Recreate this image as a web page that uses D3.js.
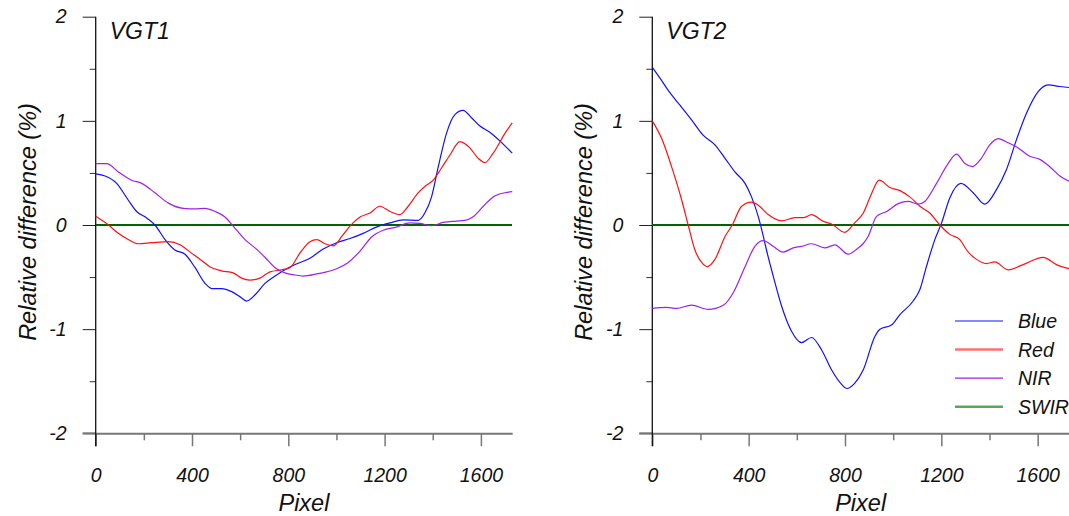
<!DOCTYPE html>
<html>
<head>
<meta charset="utf-8">
<script src="https://d3js.org/d3.v7.min.js"></script>
<style>
  body { margin: 0; background: #fff; }
  svg text { font-family: "Liberation Sans", Arial, sans-serif; font-style: italic; fill: #111; }
</style>
</head>
<body>
<svg width="1069" height="516"></svg>
<script>
// ---- data (pixel index -> relative difference %) ----
var xTickValues = [0, 400, 800, 1200, 1600];
var xMinorTicks = [200, 600, 1000, 1400];
var yTickValues = [-2, -1, 0, 1, 2];
var yMinorTicks = [-1.5, -0.5, 0.5, 1.5];

var bandNames = ["Blue", "Red", "NIR", "SWIR"];
var bandColors = ["#1010ff", "#ff1010", "#a020e8", "#006400"];

var swirPixels = [0, 1730];
var swirValues = [0, 0];

var vgt1BluePixels = [0, 39, 87, 135, 170, 212, 246, 288, 329, 371, 413, 454, 482, 523, 565, 606, 627, 662, 703, 745, 786, 828, 890, 945, 1001, 1056, 1111, 1166, 1222, 1277, 1340, 1367, 1395, 1423, 1457, 1492, 1526, 1561, 1596, 1637, 1700, 1730];
var vgt1BlueValues = [0.49, 0.47, 0.40, 0.24, 0.13, 0.067, 0.0, -0.14, -0.24, -0.28, -0.41, -0.56, -0.61, -0.61, -0.64, -0.70, -0.73, -0.67, -0.56, -0.49, -0.43, -0.38, -0.32, -0.23, -0.17, -0.13, -0.08, -0.02, 0.02, 0.05, 0.045, 0.115, 0.27, 0.56, 0.88, 1.06, 1.10, 1.03, 0.95, 0.89, 0.76, 0.69];

var vgt1RedPixels = [0, 53, 94, 135, 177, 232, 302, 350, 398, 440, 474, 523, 571, 606, 640, 682, 724, 772, 807, 848, 890, 918, 952, 987, 1022, 1056, 1098, 1139, 1180, 1222, 1263, 1298, 1340, 1367, 1402, 1437, 1471, 1513, 1554, 1589, 1617, 1651, 1700, 1730];
var vgt1RedValues = [0.083, 0.0, -0.08, -0.14, -0.18, -0.17, -0.16, -0.19, -0.27, -0.34, -0.40, -0.44, -0.46, -0.51, -0.53, -0.51, -0.45, -0.43, -0.41, -0.27, -0.16, -0.14, -0.18, -0.20, -0.11, -0.01, 0.077, 0.115, 0.18, 0.13, 0.10, 0.18, 0.31, 0.37, 0.43, 0.55, 0.67, 0.80, 0.74, 0.64, 0.60, 0.69, 0.88, 0.98];

var vgt1NirPixels = [0, 46, 94, 149, 191, 246, 302, 364, 413, 454, 496, 537, 571, 620, 662, 703, 745, 786, 828, 862, 918, 959, 1001, 1049, 1098, 1146, 1194, 1249, 1305, 1346, 1395, 1443, 1499, 1533, 1568, 1610, 1651, 1700, 1730];
var vgt1NirValues = [0.59, 0.59, 0.51, 0.43, 0.40, 0.31, 0.21, 0.16, 0.155, 0.16, 0.13, 0.077, -0.01, -0.14, -0.22, -0.31, -0.41, -0.46, -0.48, -0.49, -0.47, -0.45, -0.42, -0.36, -0.25, -0.115, -0.05, -0.02, 0.02, 0.015, -0.007, 0.025, 0.038, 0.045, 0.08, 0.18, 0.27, 0.31, 0.32];

var vgt2BluePixels = [0, 32, 73, 115, 163, 212, 260, 302, 343, 385, 412, 440, 461, 474, 502, 537, 578, 620, 661, 703, 744, 786, 807, 840, 876, 924, 945, 993, 1028, 1083, 1111, 1138, 1173, 1201, 1235, 1281, 1332, 1380, 1429, 1470, 1512, 1553, 1602, 1643, 1692, 1730];
var vgt2BlueValues = [1.515, 1.41, 1.27, 1.15, 1.01, 0.86, 0.77, 0.64, 0.51, 0.40, 0.27, 0.08, -0.11, -0.24, -0.49, -0.78, -1.02, -1.13, -1.08, -1.20, -1.39, -1.53, -1.57, -1.52, -1.39, -1.07, -1.00, -0.96, -0.86, -0.73, -0.62, -0.40, -0.14, 0.02, 0.26, 0.40, 0.31, 0.20, 0.34, 0.53, 0.82, 1.07, 1.28, 1.345, 1.33, 1.32];

var vgt2RedPixels = [0, 39, 80, 122, 149, 177, 205, 228, 260, 302, 332, 371, 412, 440, 481, 537, 592, 627, 661, 710, 744, 799, 840, 876, 910, 942, 986, 1028, 1069, 1111, 1152, 1194, 1235, 1277, 1305, 1346, 1387, 1422, 1477, 1540, 1623, 1678, 1730];
var vgt2RedValues = [1.00, 0.83, 0.56, 0.24, 0.0, -0.24, -0.36, -0.40, -0.33, -0.11, 0.0, 0.18, 0.22, 0.19, 0.10, 0.04, 0.07, 0.07, 0.10, 0.035, 0.01, -0.07, 0.02, 0.115, 0.30, 0.43, 0.36, 0.33, 0.27, 0.18, 0.115, 0.0, -0.09, -0.14, -0.24, -0.33, -0.37, -0.355, -0.43, -0.38, -0.31, -0.38, -0.42];

var vgt2NirPixels = [0, 59, 101, 163, 232, 295, 336, 385, 426, 461, 502, 543, 585, 620, 661, 716, 758, 813, 850, 875, 896, 931, 973, 1021, 1062, 1104, 1131, 1180, 1228, 1263, 1298, 1329, 1366, 1401, 1436, 1477, 1519, 1567, 1609, 1650, 1692, 1730];
var vgt2NirValues = [-0.80, -0.79, -0.80, -0.77, -0.81, -0.77, -0.65, -0.40, -0.205, -0.15, -0.205, -0.26, -0.22, -0.205, -0.18, -0.22, -0.19, -0.28, -0.23, -0.18, -0.11, 0.083, 0.13, 0.205, 0.226, 0.20, 0.226, 0.40, 0.59, 0.68, 0.59, 0.56, 0.64, 0.77, 0.83, 0.79, 0.74, 0.66, 0.63, 0.56, 0.47, 0.42];

function pairs(xs, ys) { return xs.map(function(x, i) { return [x, ys[i]]; }); }

var svg = d3.select("svg");

function drawPanel(opt) {
  var x = d3.scaleLinear().domain([0, 1730]).range([opt.left, opt.right]);
  var y = d3.scaleLinear().domain([-2, 2]).range([433.3, 16.7]);
  var g = svg.append("g");

  // y axis
  var yMajor = g.append("g").attr("transform", "translate(" + opt.left + ",0)")
    .call(d3.axisLeft(y).tickValues(yTickValues).tickSize(13).tickSizeOuter(0).tickPadding(16)
      .tickFormat(function(d) { return d; }));
  yMajor.select(".domain").remove();
  yMajor.selectAll("line").attr("stroke", "#222");
  yMajor.selectAll("text").attr("font-size", "19.5px").attr("fill", "#111");
  var yMinor = g.append("g").attr("transform", "translate(" + opt.left + ",0)")
    .call(d3.axisLeft(y).tickValues(yMinorTicks).tickSize(6).tickFormat(""));
  yMinor.select(".domain").remove();
  yMinor.selectAll("line").attr("stroke", "#333");

  // x axis
  var xMajor = g.append("g").attr("transform", "translate(0,433.3)")
    .call(d3.axisBottom(x).tickValues(xTickValues).tickSize(13).tickSizeOuter(0).tickPadding(22)
      .tickFormat(function(d) { return d; }));
  xMajor.select(".domain").attr("stroke", "#777").attr("stroke-width", 2);
  xMajor.selectAll("line").attr("stroke", "#777").attr("stroke-width", 1.5);
  xMajor.selectAll("text").attr("font-size", "19.5px").attr("fill", "#111");
  var xMinor = g.append("g").attr("transform", "translate(0,433.3)")
    .call(d3.axisBottom(x).tickValues(xMinorTicks).tickSize(7).tickFormat(""));
  xMinor.select(".domain").remove();
  xMinor.selectAll("line").attr("stroke", "#777").attr("stroke-width", 1.5);
  g.append("line").attr("x1", opt.left - 13).attr("x2", opt.left)
    .attr("y1", y(-2)).attr("y2", y(-2)).attr("stroke", "#777").attr("stroke-width", 2);

  // y axis line (runs down through the 0 tick)
  g.append("line").attr("x1", opt.left).attr("x2", opt.left)
    .attr("y1", y(2)).attr("y2", y(-2) + 13).attr("stroke", "#111").attr("stroke-width", 1.3);

  var line = d3.line().x(function(d) { return x(d[0]); }).y(function(d) { return y(d[1]); })
    .curve(d3.curveMonotoneX);

  // zero line (SWIR) first, then bands
  g.append("path").datum(pairs(swirPixels, swirValues)).attr("d", line)
    .attr("fill", "none").attr("stroke", bandColors[3]).attr("stroke-width", 1.2)
    .attr("shape-rendering", "crispEdges");
  opt.series.forEach(function(s, i) {
    g.append("path").datum(pairs(s[0], s[1])).attr("d", line)
      .attr("fill", "none").attr("stroke", bandColors[i]).attr("stroke-width", 1.2);
  });

  g.append("text").attr("x", opt.left + 14).attr("y", 39).attr("font-size", "23px").text(opt.title);
  g.append("text").attr("x", (opt.left + opt.right) / 2).attr("y", 511).attr("text-anchor", "middle")
    .attr("font-size", "23.5px").text("Pixel");
  g.append("text").attr("transform", "translate(" + (opt.left - 60) + "," + 222 + ") rotate(-90)")
    .attr("text-anchor", "middle").attr("font-size", "23.5px").text("Relative difference (%)");
  return { x: x, y: y, g: g };
}

drawPanel({
  left: 95.7, right: 512.2, title: "VGT1",
  series: [[vgt1BluePixels, vgt1BlueValues], [vgt1RedPixels, vgt1RedValues], [vgt1NirPixels, vgt1NirValues]]
});
drawPanel({
  left: 652.3, right: 1069, title: "VGT2",
  series: [[vgt2BluePixels, vgt2BlueValues], [vgt2RedPixels, vgt2RedValues], [vgt2NirPixels, vgt2NirValues]]
});

// legend
var legendWidths = [1.2, 2.5, 1.2, 2.5];
var legendStroke = ["#1010ff", "#ff7070", "#a020e8", "#55aa55"];
var legend = svg.append("g").attr("transform", "translate(955,321)");
bandNames.forEach(function(name, i) {
  var row = legend.append("g").attr("transform", "translate(0," + (i * 28.6) + ")");
  row.append("line").attr("x1", 0).attr("x2", 48).attr("stroke", legendStroke[i]).attr("stroke-width", legendWidths[i]);
  row.append("text").attr("x", 63).attr("y", 7).attr("font-size", "19.5px").text(name);
});
</script>
</body>
</html>
